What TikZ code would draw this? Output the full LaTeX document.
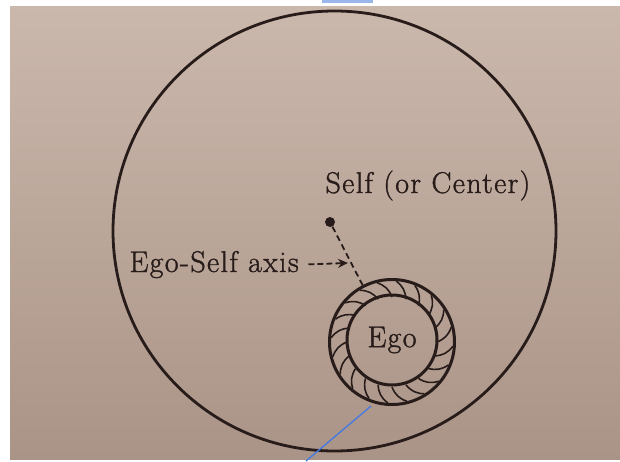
\documentclass[tikz,border=0pt]{standalone}
\usepackage{fontspec}
\setmainfont{Latin Modern Roman}[FakeBold=1.2, LetterSpace=4.5]
\usepackage{tikz}
\usetikzlibrary{arrows.meta}

\definecolor{paper}{RGB}{203,184,172}
\definecolor{paperdark}{RGB}{170,148,135}
\definecolor{ink}{RGB}{40,28,26}
\definecolor{markblue}{RGB}{72,122,222}

\begin{document}
\begin{tikzpicture}[x=1pt,y=-1pt,
    every node/.style={text=ink, font=\fontsize{30}{34}\selectfont},
    hatch/.style={ink, line width=1.6pt},
    ring/.style={circle, draw=ink, line width=3pt, inner sep=0pt},
    axisline/.style={ink, line width=1.8pt, dash pattern=on 6pt off 4pt}]
  \useasboundingbox (0,0) rectangle (620,461);
  \shade[top color=paper, bottom color=paperdark] (10,6) rectangle (620,459);
  \fill[markblue!55!white] (322,0) rectangle (373,2.5);

  \coordinate (C) at (334.5,231);
  \draw[ink, line width=2.8pt] (C) ellipse [x radius=221.5pt, y radius=220pt];

  \node[circle, fill=ink, inner sep=0pt, minimum size=10pt] (self) at (330,222) {};
  \node[anchor=base west] (selflabel) at (322,193) {Self (or Center)};

  \node[ring, minimum size=125pt] (ego) at (392,342) {};
  \node[ring, minimum size=90pt] (egoin) at (392,340) {Ego};
  \foreach \a in {0,18,...,342}
    \draw[hatch, shift={(ego.center)}] (\a:45pt) to[bend right=25] (\a+14:61pt);

  \draw[axisline] (self) -- (ego);
  \node[anchor=base west] (axis) at (126,272) {Ego-Self axis};
  \coordinate (axistip) at (348,263);
  \draw[axisline, dash pattern=on 6pt off 3pt, shorten <=6pt,
        -{Stealth[length=10pt,width=9pt]}] (axis.east) -- (axistip);

  \coordinate (bluetop) at (371,406);
  \coordinate (bluebot) at (306,461);
  \draw[markblue, line width=1.4pt] (bluetop) -- (bluebot);
\end{tikzpicture}
\end{document}
